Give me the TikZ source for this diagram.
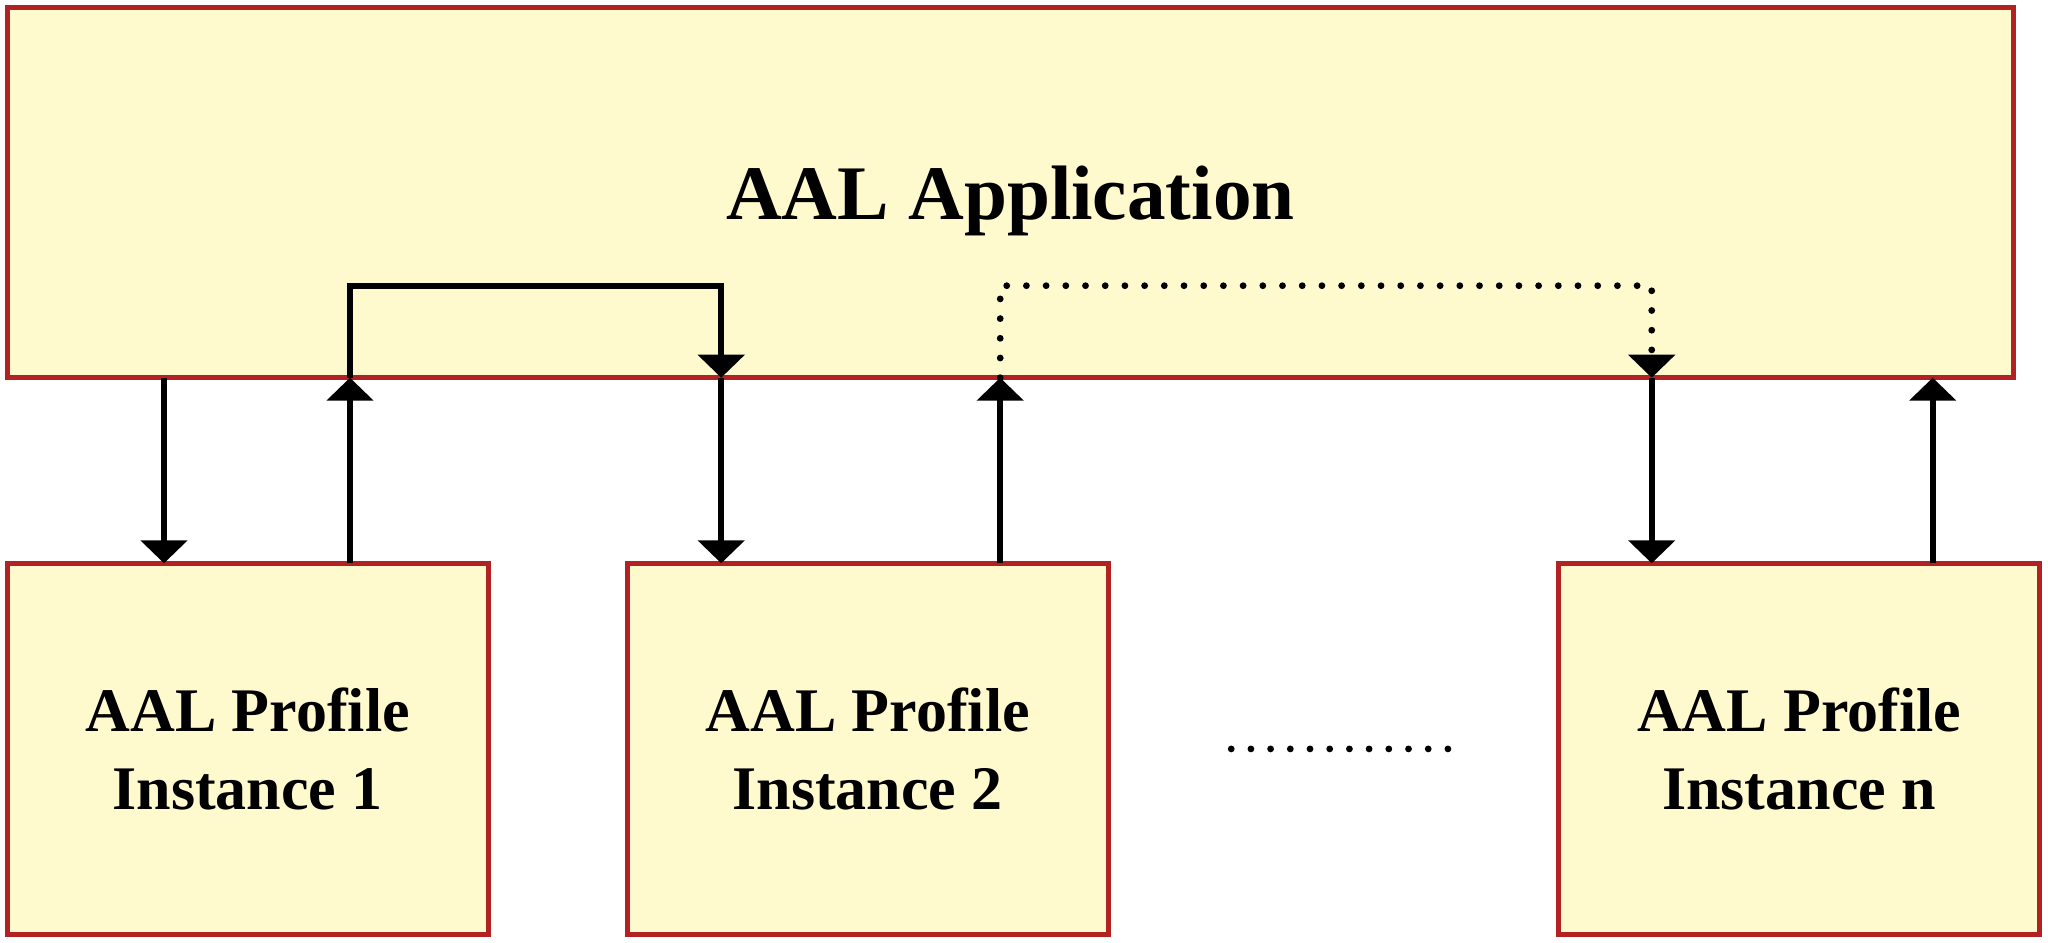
\documentclass[tikz,border=0pt]{standalone}
\usepackage{fontspec}
\setmainfont{Liberation Serif}
\usetikzlibrary{positioning,arrows.meta}
\definecolor{boxfill}{RGB}{255,249,206}
\definecolor{boxline}{RGB}{178,34,34}

\begin{document}
\begin{tikzpicture}[x=0.5pt,y=-0.5pt,
  app node/.style={rectangle,fill=boxfill,draw=boxline,line width=2.5pt,inner sep=0pt,outer sep=0pt,minimum width=1003.15pt,minimum height=185.25pt,text depth=0pt,font=\fontsize{38.6}{46}\selectfont\bfseries},
  profile node/.style={rectangle,fill=boxfill,draw=boxline,line width=2.5pt,inner sep=0pt,outer sep=0pt,minimum width=240.5pt,minimum height=185.6pt,align=center,font=\fontsize{31}{39.2}\selectfont\bfseries},
  trans/.style={line width=3.1pt,-{Triangle[length=11.5pt,width=23pt]}},
  hint/.style={line width=3.4pt,line cap=round,dash pattern=on 0pt off 9.85pt}]

  \useasboundingbox (0,0) rectangle (2048,942);

  \node[app node]      (app) at (1010.35,192.45) {AAL Application};
  \node[profile node]  (1) [below right=92.8pt and 0pt of app.south west] {AAL Profile\\Instance 1};
  \node[profile node]  (2) [right=69.5pt of 1] {AAL Profile\\Instance 2};
  \node[profile node]  (n) [right=225.25pt of 2] {AAL Profile\\Instance n};

  \coordinate (in1)  at ([xshift=78.4pt]1.north west);
  \coordinate (out1) at ([xshift=171.4pt]1.north west);
  \coordinate (in2)  at ([xshift=47pt]2.north west);
  \coordinate (out2) at ([xshift=186.5pt]2.north west);
  \coordinate (inn)  at ([xshift=46.5pt]n.north west);
  \coordinate (outn) at ([xshift=187pt]n.north west);
  \coordinate (hop)  at ([yshift=46pt]app.south);
  \coordinate (gap west) at ([xshift=61.5pt]2.east);
  \coordinate (gap east) at ([xshift=170.5pt]2.east);

  \path[trans]
    (app.south -| in1) edge (in1)
    (out1) edge (app.south -| out1)
    (app.south -| in2) edge (in2)
    (out2) edge (app.south -| out2)
    (app.south -| inn) edge (inn)
    (outn) edge (app.south -| outn);

  \draw[trans] (app.south -| out1) -- (hop -| out1) -- (hop -| in2) -- (app.south -| in2);
  \draw[trans,hint] (app.south -| out2) -- (hop -| out2) -- (hop -| inn) -- (app.south -| inn);
  \draw[hint] (gap west) -- (gap east);
\end{tikzpicture}
\end{document}
